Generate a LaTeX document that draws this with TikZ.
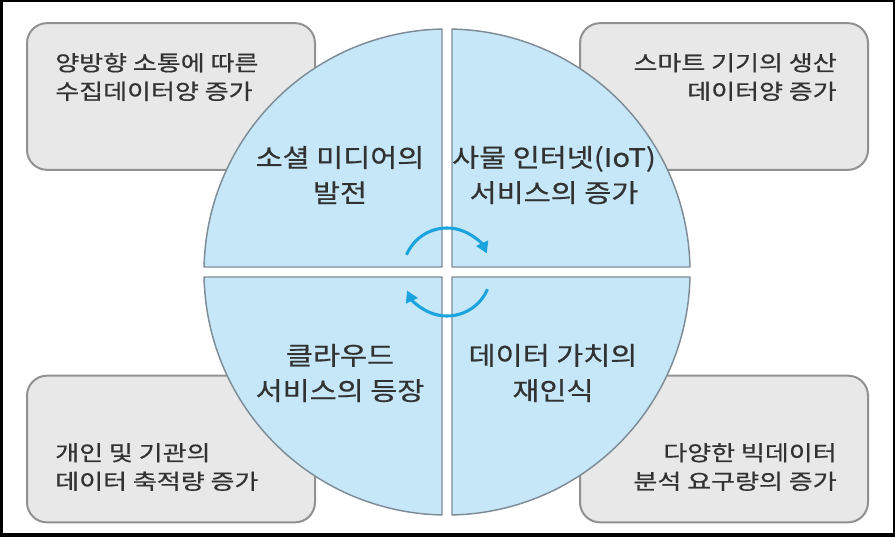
\documentclass[tikz,border=0pt]{standalone}
\usepackage{fontspec}
\setmainfont{Noto Sans CJK KR}
\newfontfamily\boxfont[FakeBold=0.6,FakeStretch=1.22]{Noto Sans CJK KR}
\newfontfamily\quadfont[FakeBold=0.6,FakeStretch=1.16]{Noto Sans CJK KR}
\usetikzlibrary{arrows.meta,calc}
\definecolor{boxfill}{RGB}{232,232,232}
\definecolor{boxline}{RGB}{145,145,145}
\definecolor{quadfill}{RGB}{198,231,248}
\definecolor{quadline}{RGB}{125,140,150}
\definecolor{txt}{RGB}{50,50,50}
\definecolor{arrowc}{RGB}{27,163,222}
\tikzset{
  cornerbox/.style={draw=boxline, fill=boxfill, line width=1.5pt, rounded corners=15pt,
    minimum width=216pt, minimum height=110pt, inner sep=0pt},
  boxtext/.style={font=\boxfont\fontsize{16pt}{21.4pt}\selectfont, text=txt, inner sep=0pt},
  quadtext/.style={font=\quadfont\fontsize{19pt}{26.5pt}\selectfont, text=txt, inner sep=0pt, align=center},
  quad/.style={draw=quadline, fill=quadfill, line width=1.1pt},
  cyc/.style={draw=arrowc, line width=2.3pt, -{Triangle[length=8.5pt,width=9.5pt]}}
}
\begin{document}
\begin{tikzpicture}[x=0.75pt,y=0.75pt]
\useasboundingbox (0,0) rectangle (895,537);
\fill[black] (0,0) rectangle (895,537);
\fill[white] (3,4) rectangle (893,535);
% corner boxes
\node[cornerbox] (btl) at (171,440.5) {};
\node[cornerbox] (btr) at (724,440.5) {};
\node[cornerbox] (bbl) at (171,88) {};
\node[cornerbox] (bbr) at (724,88) {};
\node[boxtext, anchor=west, align=left] (ttl) at (55,460) {양방향 소통에 따른\\수집데이터양 증가};
\node[boxtext, anchor=east, align=right] (ttr) at (837,460) {스마트 기기의 생산\\데이터양 증가};
\node[boxtext, anchor=west, align=left] (tbl) at (55,70) {개인 및 기관의\\데이터 축적량 증가};
\node[boxtext, anchor=east, align=right] (tbr) at (837,70) {다양한 빅데이터\\분석 요구량의 증가};
% circle quadrants
\coordinate (C) at (447,265);
\draw[quad] (442,270) -- ($(C)+(91.18:243)$) arc[start angle=91.18, end angle=178.82, radius=243] -- cycle;
\draw[quad] (452,270) -- ($(C)+(1.18:243)$) arc[start angle=1.18, end angle=88.82, radius=243] -- cycle;
\draw[quad] (442,260) -- ($(C)+(181.18:243)$) arc[start angle=181.18, end angle=268.82, radius=243] -- cycle;
\draw[quad] (452,260) -- ($(C)+(271.18:243)$) arc[start angle=271.18, end angle=358.82, radius=243] -- cycle;
\node[quadtext] (qtl) at (340,362) {소셜 미디어의\\발전};
\node[quadtext] (qtr) at (554,362) {사물 인터넷(IoT)\\서비스의 증가};
\node[quadtext] (qbl) at (340,164) {클라우드\\서비스의 등장};
\node[quadtext] (qbr) at (553,164) {데이터 가치의\\재인식};
% cycle arrows
\coordinate (a1) at ($(C)+(157:44)$);
\coordinate (a2) at ($(C)+(-23:44)$);
\draw[cyc] (a1) arc[start angle=157, end angle=25, radius=44];
\draw[cyc] (a2) arc[start angle=-23, end angle=-155, radius=44];
\end{tikzpicture}
\end{document}
